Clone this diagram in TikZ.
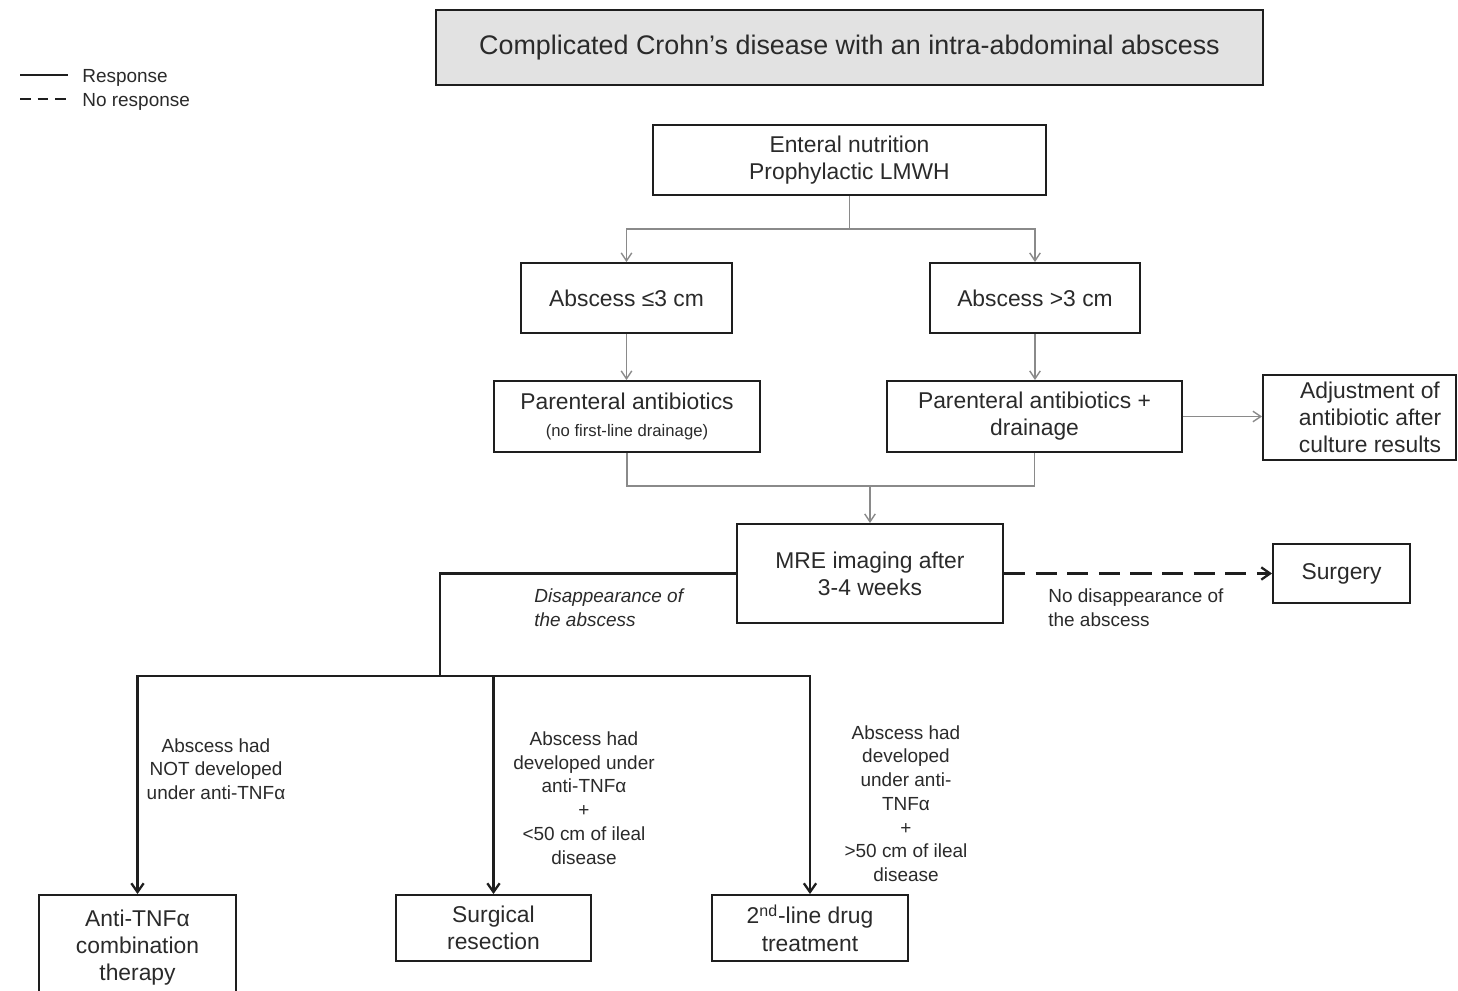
\documentclass[tikz,border=0pt]{standalone}
\usepackage{fontspec}
\setmainfont{Liberation Sans}
\usetikzlibrary{arrows.meta}
\definecolor{txt}{HTML}{2A2A2A}
\definecolor{bord}{HTML}{1E1E1E}
\definecolor{gcon}{HTML}{8A8A8A}
\definecolor{tfill}{HTML}{E2E2E2}
\begin{document}
\begin{tikzpicture}[x=0.02cm,y=-0.02cm,
  box/.style={draw=bord,line width=1.1pt,text=txt,align=center,inner sep=2pt,
    font=\fontsize{13}{15.4}\selectfont},
  lab/.style={text=txt,align=center,inner sep=0pt,font=\fontsize{10.8}{13.5}\selectfont},
  gline/.style={draw=gcon,line width=0.8pt},
  garrow/.style={gline,-{Straight Barb[length=4.5pt,width=6pt,line width=0.8pt]}},
  bline/.style={draw=bord,line width=1.5pt},
  barrow/.style={bline,-{Straight Barb[length=5pt,width=7pt,line width=1.3pt]}},
  darrow/.style={draw=bord,line width=1.5pt,dash pattern=on 12pt off 6pt,
    -{Straight Barb[length=5pt,width=7pt,line width=1.3pt]}}]
\useasboundingbox (0,0) rectangle (1458,991);
% legend
\coordinate (la1) at (20,75); \coordinate (la2) at (68,75);
\coordinate (lb1) at (20,99); \coordinate (lb2) at (68,99);
\draw[bord,line width=1.1pt] (la1) -- (la2);
\draw[bord,line width=1.1pt,dash pattern=on 6pt off 4pt] (lb1) -- (lb2);
\node[lab,anchor=west,font=\fontsize{10.8}{13}\selectfont] (lresp) at (82,78) {Response};
\node[lab,anchor=west,font=\fontsize{10.8}{13}\selectfont] (lnoresp) at (82,102) {No response};
% boxes
\node[box,fill=tfill,line width=1.4pt,minimum width=16.54cm,minimum height=1.5cm,
  font=\fontsize{15.3}{18}\selectfont] (title) at (849.5,47.5)
  {Complicated Crohn’s disease with an intra-abdominal abscess};
\node[box,minimum width=7.86cm,minimum height=1.4cm] (ent) at (849.5,160)
  {Enteral nutrition\\Prophylactic LMWH};
\node[box,minimum width=4.22cm,minimum height=1.4cm] (abs1) at (626.5,298) {Abscess ≤3 cm};
\node[box,minimum width=4.2cm,minimum height=1.4cm] (abs2) at (1035,298) {Abscess >3 cm};
\node[box,minimum width=5.32cm,minimum height=1.42cm] (par1) at (627,416.5)
  {Parenteral antibiotics\\{\fontsize{9.5}{11}\selectfont (no first-line drainage)}};
\node[box,minimum width=5.9cm,minimum height=1.42cm] (par2) at (1034.5,416.5)
  {Parenteral antibiotics +\\drainage};
\node[box,minimum width=3.86cm,minimum height=1.7cm] (adj) at (1359.5,417.5)
  {\hspace*{12pt}Adjustment of\\\hspace*{12pt}antibiotic after\\\hspace*{12pt}culture results};
\node[box,minimum width=5.32cm,minimum height=1.98cm] (mre) at (870,573.5)
  {MRE imaging after\\3-4 weeks};
\node[box,minimum width=2.74cm,minimum height=1.18cm] (surg) at (1341.5,573.5) {Surgery};
\node[box,minimum width=3.94cm,minimum height=2.1cm] (anti) at (137.5,947.5)
  {Anti-TNFα\\combination\\therapy};
\node[box,minimum width=3.9cm,minimum height=1.32cm] (sres) at (493.5,928)
  {Surgical\\resection};
\node[box,minimum width=3.92cm,minimum height=1.32cm] (sec) at (810,928)
  {2\textsuperscript{nd}-line drug\\treatment};
% upper grey connectors
\coordinate (s1) at (849.5,229);
\draw[gline] (ent.south) -- (s1);
\draw[garrow] (s1) -| (abs1.north);
\draw[garrow] (s1) -| (abs2.north);
\draw[garrow] (abs1.south) -- (abs1.south |- par1.north);
\draw[garrow] (abs2.south) -- (abs2.south |- par2.north);
\draw[garrow] (par2.east) -- (par2.east -| adj.west);
\coordinate (s2) at (870,486);
\draw[gline] (par1.south) |- (s2);
\draw[gline] (par2.south) |- (s2);
\draw[garrow] (s2) -- (mre.north);
% MRE outcomes
\draw[darrow] (mre.east) -- (surg.west);
\node[lab,anchor=west,align=left] (nodis) at (1048,608)
  {No disappearance of\\the abscess};
\coordinate (s3) at (440,676);
\draw[bline] (mre.west) -| (s3);
\draw[barrow] (s3) -| (anti.north);
\draw[barrow] (s3) -| (sres.north);
\draw[barrow] (s3) -| (sec.north);
\node[lab,anchor=west,align=left,font=\fontsize{10.8}{13.5}\selectfont\itshape] (dis) at (534,608)
  {Disappearance of\\the abscess};
\node[lab] (c1) at (216,769) {Abscess had\\NOT developed\\under anti-TNFα};
\node[lab] (c2) at (584,798) {Abscess had\\developed under\\anti-TNFα\\+\\<50 cm of ileal\\disease};
\node[lab] (c3) at (906,803.5) {Abscess had\\developed\\under anti-\\TNFα\\+\\>50 cm of ileal\\disease};
\end{tikzpicture}
\end{document}
